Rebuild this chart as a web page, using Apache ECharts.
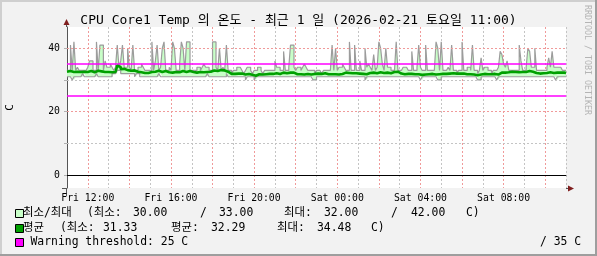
<!DOCTYPE html>
<html>
<head>
<meta charset="utf-8">
<script src="https://cdn.jsdelivr.net/npm/echarts@6/dist/echarts.min.js"></script>
<style>
html,body{margin:0;padding:0;background:#f2f2f2;}
#c{width:597px;height:256px;}
</style>
</head>
<body>
<div id="c"></div>
<script>
// ---- data (5-minute samples from Fri 11:00 to Sat 11:00) ----
const titleText = 'CPU Core1 Temp 의 온도 - 최근 1 일 (2026-02-21 토요일 11:00)';
const stepMinutes = 5;
const startHour = 11;
const dayNames = ['Fri', 'Sat'];
const minTemp = [
31,31,31,30,31,31,31,31,31,32,31,31,31,31,31,31,31,32,31,31,31,31,31,31,
31,31,32,32,32,33,33,32,32,32,32,32,32,32,32,31,32,32,31,31,31,31,31,31,
31,31,31,31,31,32,31,31,31,31,31,31,31,31,31,31,31,31,31,31,31,31,31,31,
31,31,31,31,31,31,31,31,31,32,31,31,31,31,31,31,31,31,31,31,32,31,31,31,
31,31,31,31,31,31,31,30,31,31,31,31,30,31,31,31,31,31,31,31,31,31,31,31,
31,31,31,31,31,31,31,31,31,31,31,31,31,31,31,31,31,31,31,31,31,31,30,30,
31,31,31,31,31,31,31,31,31,31,31,31,31,31,31,31,31,31,31,31,31,31,31,31,
31,31,31,31,30,31,31,31,31,31,31,31,31,31,31,31,31,31,31,31,31,31,31,31,
31,31,31,31,31,31,31,31,31,31,31,31,30,31,31,31,31,31,31,31,31,31,30,30,
31,31,31,31,31,31,31,31,31,31,31,31,31,31,31,31,31,31,31,31,31,30,30,31,
31,31,31,31,31,31,31,31,30,31,31,31,31,31,31,31,31,31,31,31,31,31,31,31,
31,31,31,31,31,31,31,31,31,31,31,31,31,31,31,31,31,31,30,31,31,31,31,31
];
const maxTemp = [
33,33,41,33,42,33,34,33,33,33,33,33,34,36,36,33,33,42,33,41,41,33,36,34,
34,35,34,33,34,41,34,36,41,34,34,40,34,33,41,33,33,34,34,35,34,33,33,33,
33,42,33,36,41,33,34,40,42,33,33,34,33,42,40,33,33,35,42,40,33,42,42,33,
33,33,33,34,34,33,34,35,34,34,33,33,42,42,34,33,40,33,34,33,41,33,33,32,
33,33,34,34,34,33,32,33,34,34,33,32,33,33,34,34,33,32,33,33,33,33,33,33,
36,34,34,33,33,39,33,33,34,41,41,34,33,34,34,33,34,35,34,33,33,33,33,32,
33,33,33,32,33,33,33,33,33,41,33,40,33,34,34,35,34,33,33,42,33,33,41,33,
33,36,33,33,40,34,35,34,33,38,33,34,42,40,35,33,40,34,34,33,33,33,42,33,
33,33,34,34,34,33,33,39,33,33,34,41,34,33,33,41,33,33,33,33,33,42,40,33,
42,33,33,33,34,33,41,33,33,32,33,33,42,33,33,34,34,33,41,33,33,32,33,37,
33,34,34,33,33,32,33,33,33,34,39,38,35,34,36,33,33,33,33,33,33,41,36,33,
33,34,40,39,34,34,40,33,33,33,33,33,33,34,37,34,39,34,34,34,34,34,33,33
];
const avgTemp = [
32.6,32.8,33.0,32.5,32.9,32.6,32.7,32.5,32.4,32.6,32.3,32.5,32.6,32.8,32.7,32.4,32.5,32.9,32.4,32.7,32.8,32.5,32.6,32.5,
32.5,32.4,32.6,32.5,32.8,34.5,34.1,33.4,33.5,33.2,33.1,33.0,32.9,32.7,33.0,32.8,32.6,32.7,32.4,32.3,32.2,32.3,32.2,32.4,
32.5,32.8,32.6,32.7,32.9,32.6,32.5,32.7,32.8,32.5,32.4,32.5,32.3,32.6,32.5,32.3,32.4,32.6,32.8,32.6,32.5,32.9,32.8,32.6,
32.5,32.4,32.3,32.4,32.5,32.3,32.4,32.6,32.5,32.7,32.6,32.7,33.0,33.1,32.8,32.7,33.1,33.3,33.0,32.8,32.6,32.0,31.9,31.8,
31.9,31.8,32.0,31.9,32.0,31.8,31.7,31.5,31.9,31.8,31.6,31.5,31.3,31.7,31.8,31.9,31.7,31.6,31.8,32.0,31.9,31.9,31.9,32.0,
32.1,32.0,31.9,32.2,32.3,32.4,32.1,32.2,32.3,32.5,32.3,31.9,31.8,31.7,31.8,31.9,31.7,31.8,31.9,31.8,31.7,31.8,31.9,31.5,
32.0,32.1,31.9,31.8,32.1,31.9,31.8,31.7,31.8,31.9,31.8,31.9,31.7,31.8,31.9,32.2,32.3,32.1,32.2,32.3,32.1,32.0,32.1,31.9,
32.0,32.1,31.9,32.0,31.8,32.0,32.2,32.1,32.3,32.0,32.1,32.2,32.4,32.3,32.2,32.1,32.3,32.2,32.1,32.3,32.5,32.4,32.6,32.5,
32.0,31.9,31.8,32.0,31.9,31.8,31.9,32.0,31.8,31.7,31.8,31.9,31.6,31.8,31.7,31.9,31.8,32.0,31.9,31.8,31.7,31.9,31.8,31.7,
31.9,32.0,31.9,32.1,32.0,32.2,32.1,31.9,32.0,31.8,32.0,32.1,32.0,31.9,31.8,31.7,31.8,31.6,31.7,31.6,31.5,31.6,31.7,31.8,
31.9,32.0,31.8,31.9,31.8,31.7,31.9,31.8,31.7,32.0,32.3,32.4,32.3,32.2,32.4,32.5,32.6,32.4,32.5,32.6,32.4,32.6,32.5,32.4,
32.5,32.7,32.8,32.7,32.6,32.3,32.2,32.1,32.0,32.2,32.1,32.3,32.2,32.3,32.4,32.3,32.2,32.4,32.3,32.2,32.3,32.4,32.3,32.2
];
const yLabelValues = [0, 20, 40];
const yMinorGrid = [10, 30];
const yMajorGrid = [20, 40];
const thresholds = [35, 25];
const legendRow1 = [['최소/최대',23],['(최소:',87],['30.00',133],['/',200],['33.00',219],['최대:',284],['32.00',324],['/',391],['42.00',411],['C)',466]];
const legendRow2 = [['평균',23],['(최소:',60],['31.33',103],['평균:',171],['32.29',211],['최대:',277],['34.48',317],['C)',371]];
const legendRow3 = [['Warning threshold: 25 C',30.5],['/ 35 C',540]];

// ---- build ----
const MONO = 'DejaVu Sans Mono, Noto Sans CJK KR, monospace';
const n = minTemp.length;
const perHour = 60 / stepMinutes;
const categories = [];
for (let i = 0; i <= n; i++) {
  const totalMin = startHour * 60 + i * stepMinutes;
  const day = dayNames[Math.min(Math.floor(totalMin / 1440), dayNames.length - 1)];
  const h = Math.floor((totalMin % 1440) / 60), m = totalMin % 60;
  categories.push(day + ' ' + String(h).padStart(2, '0') + ':' + String(m).padStart(2, '0'));
}
function withEnd(arr) { return arr.concat([arr[arr.length - 1]]); }
const bandArr = maxTemp.map((v, i) => v - minTemp[i]);

const GRAY = '#9c9c9c';
const chart = echarts.init(document.getElementById('c'), null, {renderer: 'canvas'});

function legendTexts(row, y) {
  return row.map(([t, x]) => ({type: 'text', x: x, y: y, silent: true,
    style: {text: t, fontFamily: MONO, fontSize: 11.4, fill: '#000', align: 'left', verticalAlign: 'middle'}}));
}

const option = {
  animation: false,
  backgroundColor: '#f2f2f2',
  title: {text: titleText, left: 'center', top: 9,
    textStyle: {fontFamily: MONO, fontSize: 13, fontWeight: 'normal', color: '#000'}},
  grid: {left: 67, right: 31, top: 27, bottom: 68, show: true, backgroundColor: '#ffffff', borderWidth: 0,
    containLabel: false, outerBoundsMode: 'none'},
  xAxis: {
    type: 'category', data: categories, boundaryGap: false,
    axisLine: {show: true, lineStyle: {color: '#555', width: 1}},
    axisTick: {show: false},
    axisLabel: {
      fontFamily: MONO, fontSize: 9.8, color: '#000', margin: 6, hideOverlap: false,
      interval: function (idx) { return idx % (4 * perHour) === perHour; }
    },
    splitLine: {show: true, interval: function (idx) { return idx % perHour === 0; },
      lineStyle: {color: ['#c4c4c4', '#f09a9a'], type: [2, 2], width: 1}}
  },
  yAxis: {
    type: 'value', min: -4.1, max: 46.7,
    name: 'C', nameLocation: 'middle', nameRotate: 90, nameGap: 51,
    nameTextStyle: {fontFamily: MONO, fontSize: 11, color: '#000'},
    axisLine: {show: true, lineStyle: {color: '#555', width: 1}},
    axisTick: {show: true, customValues: [0, 10, 20, 30, 40], length: 3, inside: false,
      lineStyle: {color: '#b0b0b0', width: 1}},
    splitLine: {show: false},
    axisLabel: {customValues: yLabelValues, fontFamily: MONO, fontSize: 9.8, color: '#000', margin: 7}
  },
  series: [
    {type: 'line', data: [], z: 1, silent: true,
      markLine: {symbol: 'none', silent: true, label: {show: false},
        data: yMinorGrid.map(v => ({yAxis: v, lineStyle: {color: '#c4c4c4', type: [2, 2], width: 1}}))
          .concat(yMajorGrid.map(v => ({yAxis: v, lineStyle: {color: '#f09a9a', type: [2, 2], width: 1}})))}},
    {name: 'min', type: 'line', data: withEnd(minTemp), stack: 'band', step: 'end', z: 4, symbol: 'none',
      lineStyle: {color: GRAY, width: 1.2}, silent: true},
    {name: 'band', type: 'line', data: withEnd(bandArr), stack: 'band', step: 'end', z: 3, symbol: 'none',
      lineStyle: {color: GRAY, width: 1.2}, areaStyle: {color: '#c8ffc8', opacity: 1}, silent: true},
    {name: 'avg', type: 'line', data: withEnd(avgTemp), step: 'end', z: 5, symbol: 'none',
      lineStyle: {color: '#00a000', width: 2.6}, silent: true},
    {type: 'line', data: [], z: 6, silent: true,
      markLine: {symbol: 'none', silent: true, label: {show: false},
        data: [{yAxis: 0, lineStyle: {color: '#000', type: 'solid', width: 1}}]
          .concat(thresholds.map(v => ({yAxis: v, lineStyle: {color: '#ff00ff', type: 'solid', width: 1.6}})))}}
  ],
  graphic: [
    {type: 'rect', shape: {x: 0, y: 0, width: 597, height: 2}, style: {fill: '#cfcfcf'}, silent: true},
    {type: 'rect', shape: {x: 0, y: 0, width: 2, height: 256}, style: {fill: '#cfcfcf'}, silent: true},
    {type: 'rect', shape: {x: 595, y: 0, width: 2, height: 256}, style: {fill: '#9e9e9e'}, silent: true},
    {type: 'rect', shape: {x: 0, y: 254, width: 597, height: 2}, style: {fill: '#9e9e9e'}, silent: true},
    {type: 'line', shape: {x1: 66.5, y1: 188, x2: 66.5, y2: 196}, style: {stroke: '#555', lineWidth: 1}, silent: true},
    {type: 'line', shape: {x1: 62, y1: 188.5, x2: 67, y2: 188.5}, style: {stroke: '#555', lineWidth: 1}, silent: true},
    {type: 'line', shape: {x1: 66.5, y1: 22, x2: 66.5, y2: 27}, style: {stroke: '#555', lineWidth: 1}, silent: true},
    {type: 'line', shape: {x1: 566, y1: 188.5, x2: 570, y2: 188.5}, style: {stroke: '#555', lineWidth: 1}, silent: true},
    {type: 'polygon', shape: {points: [[66.5, 19], [63.5, 25], [69.5, 25]]}, style: {fill: '#801f1f'}, silent: true},
    {type: 'polygon', shape: {points: [[574, 188.5], [568, 185.5], [568, 191.5]]}, style: {fill: '#801f1f'}, silent: true},
    {type: 'text', x: 587, y: 5, rotation: -Math.PI / 2, silent: true,
      style: {text: 'RRDTOOL / TOBI OETIKER', fontFamily: MONO, fontSize: 8.3, fill: '#b4b4b4', align: 'left', verticalAlign: 'middle'}},
    {type: 'rect', shape: {x: 15.5, y: 209.5, width: 8, height: 8}, style: {fill: '#c8ffc8', stroke: '#000', lineWidth: 1}, silent: true},
    {type: 'rect', shape: {x: 15.5, y: 224.5, width: 8, height: 8}, style: {fill: '#00a000', stroke: '#000', lineWidth: 1}, silent: true},
    {type: 'rect', shape: {x: 15.5, y: 238.5, width: 8, height: 8}, style: {fill: '#ff00ff', stroke: '#000', lineWidth: 1}, silent: true}
  ].concat(legendTexts(legendRow1, 213.5), legendTexts(legendRow2, 228.5), legendTexts(legendRow3, 242.5))
};
chart.setOption(option);
</script>
</body>
</html>
